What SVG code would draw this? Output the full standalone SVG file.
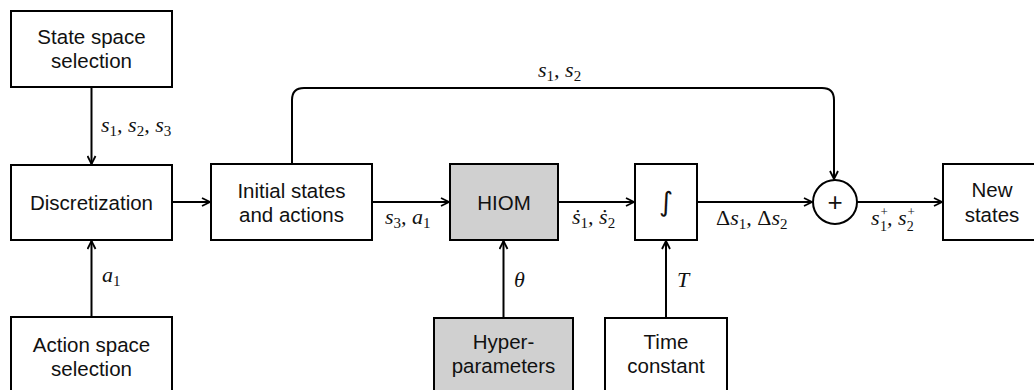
<svg xmlns="http://www.w3.org/2000/svg" width="1034" height="390" viewBox="0 0 1034 390">
<style>
.box{fill:#fff;stroke:#000;stroke-width:2}
.grey{fill:#d0d0d0}
.t{font-family:"Liberation Sans",Arial,sans-serif;font-size:20.5px;text-anchor:middle;fill:#111}
.m{font-family:"Liberation Serif","DejaVu Serif",serif;font-size:22px;font-style:italic;fill:#111}
.sub{font-style:normal;font-size:15px}
.sub2{font-style:normal;font-size:14px}
.sup{font-style:normal;font-size:13px}
.up{font-style:normal}
.c{fill:none;stroke:#000;stroke-width:2}
</style>
<defs>
<marker id="arr" viewBox="0 0 10 10" refX="9" refY="5" markerWidth="10" markerHeight="10" markerUnits="userSpaceOnUse" orient="auto">
<path d="M1,1 L9,5 L1,9" fill="none" stroke="#000" stroke-width="1.8"/>
</marker>
</defs>
<g id="connectors">
<path class="c" d="M91.5,87 V164" marker-end="url(#arr)"/>
<path class="c" d="M91.5,317 V241" marker-end="url(#arr)"/>
<path class="c" d="M172,202 H210" marker-end="url(#arr)"/>
<path class="c" d="M372,202 H449" marker-end="url(#arr)"/>
<path class="c" d="M558,202 H634" marker-end="url(#arr)"/>
<path class="c" d="M697,202 H812" marker-end="url(#arr)"/>
<path class="c" d="M857,202 H942" marker-end="url(#arr)"/>
<path class="c" d="M292,164 V100 Q292,88 304,88 H822 Q834,88 834,100 V179" marker-end="url(#arr)"/>
<path class="c" d="M503.5,318 V241" marker-end="url(#arr)"/>
<path class="c" d="M666,318 V241" marker-end="url(#arr)"/>
<text class="m" x="101" y="132">s<tspan class="sub" dy="4">1</tspan><tspan dy="-4">, s</tspan><tspan class="sub" dy="4">2</tspan><tspan dy="-4">, s</tspan><tspan class="sub" dy="4">3</tspan></text>
<text class="m" x="102" y="282">a<tspan class="sub" dy="4">1</tspan></text>
<text class="m" x="538" y="77">s<tspan class="sub" dy="4">1</tspan><tspan dy="-4">, s</tspan><tspan class="sub" dy="4">2</tspan></text>
<text class="m" x="385" y="224">s<tspan class="sub" dy="4">3</tspan><tspan dy="-4">, a</tspan><tspan class="sub" dy="4">1</tspan></text>
<text class="m" x="572" y="224">ṡ<tspan class="sub" dy="4">1</tspan><tspan dy="-4">, ṡ</tspan><tspan class="sub" dy="4">2</tspan></text>
<text class="m" x="716" y="225"><tspan class="up">Δ</tspan>s<tspan class="sub" dy="4">1</tspan><tspan dy="-4">, </tspan><tspan class="up">Δ</tspan>s<tspan class="sub" dy="4">2</tspan></text>
<text class="m" x="871" y="225">s<tspan class="sup" dx="1" dy="-9">+</tspan><tspan class="sub2" dx="-8" dy="15">1</tspan><tspan dy="-6">, s</tspan><tspan class="sup" dx="1" dy="-9">+</tspan><tspan class="sub2" dx="-8" dy="15">2</tspan></text>
<text class="m" x="514" y="287">θ</text>
<text class="m" x="677" y="287">T</text>
</g>
<g id="state-space"><rect class="box" x="11" y="11" width="161" height="76"/><text class="t" x="91.5" y="44">State space</text><text class="t" x="91.5" y="68">selection</text></g>
<g id="discretization"><rect class="box" x="11" y="165" width="161" height="75"/><text class="t" x="91.5" y="210">Discretization</text></g>
<g id="action-space"><rect class="box" x="11" y="317" width="161" height="80"/><text class="t" x="91.5" y="352">Action space</text><text class="t" x="91.5" y="376">selection</text></g>
<g id="initial"><rect class="box" x="211" y="164" width="161" height="76"/><text class="t" x="291.5" y="198">Initial states</text><text class="t" x="291.5" y="222">and actions</text></g>
<g id="hiom"><rect class="box grey" x="450" y="164" width="108" height="76"/><text class="t" x="504" y="210">HIOM</text></g>
<g id="integral"><rect class="box" x="635" y="164" width="62" height="76"/><text class="t" x="666" y="211" style="font-family:'DejaVu Sans',sans-serif;font-size:27px">∫</text></g>
<g id="sum"><circle class="box" cx="835" cy="202" r="22"/><text class="t" x="835" y="211" style="font-size:26px">+</text></g>
<g id="new-states"><rect class="box" x="943" y="164" width="98" height="76"/><text class="t" x="992" y="197">New</text><text class="t" x="992" y="222">states</text></g>
<g id="hyper"><rect class="box grey" x="434" y="318" width="139" height="80"/><text class="t" x="503.5" y="349">Hyper-</text><text class="t" x="503.5" y="373">parameters</text></g>
<g id="time-constant"><rect class="box" x="605" y="318" width="122" height="80"/><text class="t" x="666" y="349">Time</text><text class="t" x="666" y="373">constant</text></g>
</svg>
